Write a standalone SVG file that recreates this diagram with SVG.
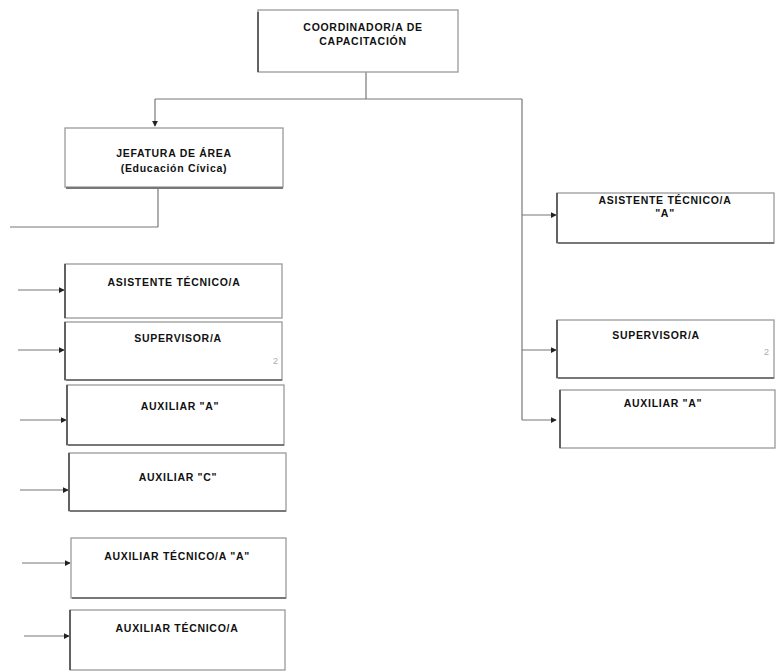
<svg xmlns="http://www.w3.org/2000/svg" width="777" height="672" viewBox="0 0 777 672">
<defs>
<style>
.box{fill:#fff;stroke:#9a9a9a;stroke-width:1.3}
.edge{stroke:#444;stroke-width:1.5}
.shadow{stroke:#777;stroke-width:2}
.t{font-family:"Liberation Sans",Arial,sans-serif;font-weight:bold;font-size:10.5px;fill:#111;text-anchor:middle;letter-spacing:0.7px}
.n{font-family:"Liberation Sans",Arial,sans-serif;font-size:9px;fill:#aaa}
.ln{stroke:#777;stroke-width:1.2;fill:none}
</style>
<marker id="ah" viewBox="0 0 8 8" refX="7" refY="4" markerWidth="6" markerHeight="6" orient="auto" markerUnits="userSpaceOnUse">
<path d="M0,0 L8,4 L0,8 z" fill="#222"/>
</marker>
</defs>
<rect width="777" height="672" fill="#fff"/>

<g id="connectors">
<line class="ln" x1="366" y1="72" x2="366" y2="99"/>
<line class="ln" x1="155" y1="99" x2="522" y2="99"/>
<line class="ln" x1="155" y1="99" x2="155" y2="126" marker-end="url(#ah)"/>
<line class="ln" x1="522" y1="99" x2="522" y2="420"/>
<line class="ln" x1="522" y1="215" x2="556" y2="215" marker-end="url(#ah)"/>
<line class="ln" x1="522" y1="350" x2="556" y2="350" marker-end="url(#ah)"/>
<line class="ln" x1="522" y1="420" x2="556" y2="420" marker-end="url(#ah)"/>
<line class="ln" x1="158" y1="188" x2="158" y2="227"/>
<line class="ln" x1="10" y1="227" x2="158" y2="227"/>
<line class="ln" x1="18" y1="290" x2="64" y2="290" marker-end="url(#ah)"/>
<line class="ln" x1="18" y1="350" x2="64" y2="350" marker-end="url(#ah)"/>
<line class="ln" x1="20" y1="420" x2="66" y2="420" marker-end="url(#ah)"/>
<line class="ln" x1="20" y1="490" x2="68" y2="490" marker-end="url(#ah)"/>
<line class="ln" x1="22" y1="563" x2="70" y2="563" marker-end="url(#ah)"/>
<line class="ln" x1="24" y1="636" x2="69" y2="636" marker-end="url(#ah)"/>
</g>

<g id="n-coordinador">
<rect class="box" x="258" y="10" width="200" height="62"/>
<line class="edge" x1="258" y1="12" x2="258" y2="72"/>
<text class="t" x="363" y="31">COORDINADOR/A DE</text>
<text class="t" x="363" y="45">CAPACITACIÓN</text>
</g>

<g id="n-jefatura">
<rect class="box" x="65" y="128" width="218" height="59"/>
<line class="shadow" x1="66" y1="188" x2="283" y2="188"/>
<text class="t" x="174" y="157">JEFATURA DE ÁREA</text>
<text class="t" x="174" y="172">(Educación Cívica)</text>
</g>

<g id="n-asistente-l">
<rect class="box" x="65" y="264" width="217" height="54"/>
<line class="edge" x1="65" y1="264" x2="65" y2="318"/>
<text class="t" x="174" y="286">ASISTENTE TÉCNICO/A</text>
</g>

<g id="n-supervisor-l">
<rect class="box" x="65" y="322" width="217" height="58"/>
<line class="edge" x1="65" y1="322" x2="65" y2="380"/>
<line class="shadow" x1="66" y1="380" x2="282" y2="380"/>
<text class="t" x="178" y="342">SUPERVISOR/A</text>
<text class="n" x="273" y="364">2</text>
</g>

<g id="n-auxiliar-a-l">
<rect class="box" x="67" y="385" width="217" height="60"/>
<line class="edge" x1="67" y1="385" x2="67" y2="445"/>
<line class="shadow" x1="68" y1="445" x2="284" y2="445"/>
<text class="t" x="180" y="410">AUXILIAR "A"</text>
</g>

<g id="n-auxiliar-c-l">
<rect class="box" x="69" y="453" width="217" height="58"/>
<line class="edge" x1="69" y1="453" x2="69" y2="511"/>
<line class="shadow" x1="70" y1="511" x2="286" y2="511"/>
<text class="t" x="178" y="481">AUXILIAR "C"</text>
</g>

<g id="n-auxiliar-tec-a-l">
<rect class="box" x="71" y="538" width="215" height="60"/>
<line class="shadow" x1="72" y1="598" x2="286" y2="598"/>
<text class="t" x="177" y="560">AUXILIAR TÉCNICO/A "A"</text>
</g>

<g id="n-auxiliar-tec-l">
<rect class="box" x="70" y="610" width="215" height="60"/>
<line class="edge" x1="70" y1="610" x2="70" y2="670"/>
<text class="t" x="177" y="632">AUXILIAR TÉCNICO/A</text>
</g>

<g id="n-asistente-r">
<rect class="box" x="557" y="193" width="217" height="50"/>
<line class="edge" x1="557" y1="193" x2="557" y2="243"/>
<line class="shadow" x1="558" y1="243" x2="774" y2="243"/>
<text class="t" x="665" y="204">ASISTENTE TÉCNICO/A</text>
<text class="t" x="665" y="217">"A"</text>
</g>

<g id="n-supervisor-r">
<rect class="box" x="557" y="320" width="217" height="58"/>
<line class="edge" x1="557" y1="320" x2="557" y2="378"/>
<line class="shadow" x1="558" y1="378" x2="774" y2="378"/>
<text class="t" x="656" y="339">SUPERVISOR/A</text>
<text class="n" x="764" y="355">2</text>
</g>

<g id="n-auxiliar-a-r">
<rect class="box" x="560" y="390" width="215" height="58"/>
<line class="edge" x1="560" y1="390" x2="560" y2="448"/>
<text class="t" x="663" y="407">AUXILIAR "A"</text>
</g>
</svg>
